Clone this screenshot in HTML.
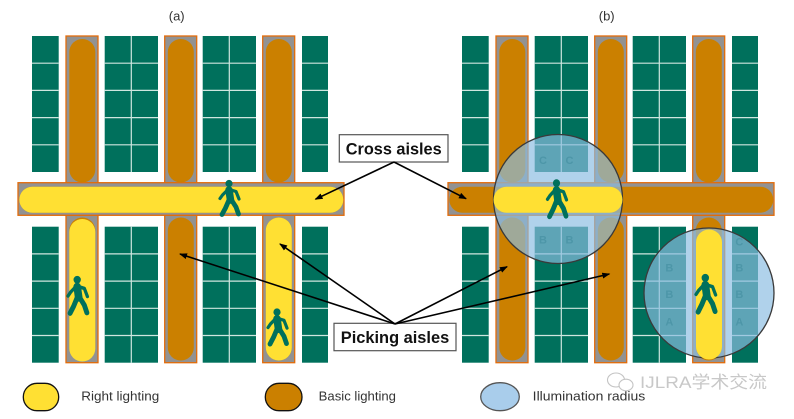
<!DOCTYPE html>
<html><head><meta charset="utf-8"><style>
html,body{margin:0;padding:0;background:#fff;}
svg{display:block;}
</style></head><body>
<svg width="794" height="419" viewBox="0 0 794 419" xmlns="http://www.w3.org/2000/svg">
<defs>
  <marker id="ah" markerWidth="8" markerHeight="6" refX="7" refY="3" orient="auto" markerUnits="userSpaceOnUse">
    <path d="M0,0 L8,3 L0,6 Z" fill="#000"/>
  </marker>
  <g id="walker" fill="none" stroke="#00705c" stroke-linecap="round" stroke-linejoin="round">
    <circle cx="10" cy="3.5" r="3.6" fill="#00705c" stroke="none"/>
    <path d="M10 10 L11.5 20" stroke-width="7.5"/>
    <path d="M8 10.5 L3.5 15 L1 18.5" stroke-width="3.2"/>
    <path d="M12 10 L17 11.5 L20 19" stroke-width="3.2"/>
    <path d="M10 20 L6.5 28 L3 34.5" stroke-width="4.8"/>
    <path d="M12.5 20 L17 27 L19.5 34" stroke-width="4.8"/>
  </g>
  <g id="base">
    <g fill="#00705c">
      <rect x="32" y="36" width="26.7" height="136"/>
      <rect x="104.7" y="36" width="53.3" height="136"/>
      <rect x="202.7" y="36" width="53.3" height="136"/>
      <rect x="302" y="36" width="26" height="136"/>
      <rect x="32" y="226.7" width="26.7" height="136"/>
      <rect x="104.7" y="226.7" width="53.3" height="136"/>
      <rect x="202.7" y="226.7" width="53.3" height="136"/>
      <rect x="302" y="226.7" width="26" height="136"/>
    </g>
    <g stroke="#cfe6df" stroke-width="1.2" fill="none">
      <path d="M32 63.2H58.7M32 90.4H58.7M32 117.6H58.7M32 144.8H58.7"/>
      <path d="M104.7 63.2H158M104.7 90.4H158M104.7 117.6H158M104.7 144.8H158M131.3 36V172"/>
      <path d="M202.7 63.2H256M202.7 90.4H256M202.7 117.6H256M202.7 144.8H256M229.3 36V172"/>
      <path d="M302 63.2H328M302 90.4H328M302 117.6H328M302 144.8H328"/>
      <path d="M32 253.9H58.7M32 281.1H58.7M32 308.3H58.7M32 335.5H58.7"/>
      <path d="M104.7 253.9H158M104.7 281.1H158M104.7 308.3H158M104.7 335.5H158M131.3 226.7V362.7"/>
      <path d="M202.7 253.9H256M202.7 281.1H256M202.7 308.3H256M202.7 335.5H256M229.3 226.7V362.7"/>
      <path d="M302 253.9H328M302 281.1H328M302 308.3H328M302 335.5H328"/>
    </g>
    <g fill="#929292" stroke="#e36c0a" stroke-width="1.3">
      <rect x="66" y="36" width="32" height="147"/>
      <rect x="164.7" y="36" width="32" height="147"/>
      <rect x="262.7" y="36" width="32" height="147"/>
      <rect x="66" y="215.3" width="32" height="147.4"/>
      <rect x="164.7" y="215.3" width="32" height="147.4"/>
      <rect x="262.7" y="215.3" width="32" height="147.4"/>
      <rect x="18" y="182.7" width="326" height="32.6"/>
    </g>
    <g fill="#cb8000">
      <rect x="69.3" y="39" width="26" height="143.5" rx="13"/>
      <rect x="167.8" y="39" width="26" height="143.5" rx="13"/>
      <rect x="265.8" y="39" width="26" height="143.5" rx="13"/>
      <rect x="69.3" y="217.5" width="26" height="143" rx="13"/>
      <rect x="167.8" y="217.5" width="26" height="143" rx="13"/>
      <rect x="265.8" y="217.5" width="26" height="143" rx="13"/>
      <rect x="19.3" y="186.7" width="324" height="26" rx="13"/>
    </g>
  </g>
</defs>

<!-- Panel (a) -->
<text x="176.7" y="20.5" font-family="Liberation Sans, sans-serif" font-size="13" fill="#333" text-anchor="middle">(a)</text>
<use href="#base"/>
<g fill="#ffe033">
  <rect x="19.3" y="186.7" width="324" height="26" rx="13"/>
  <rect x="69.3" y="219" width="26" height="142.5" rx="13"/>
  <rect x="265.8" y="217.5" width="26" height="143" rx="13"/>
</g>
<use href="#walker" transform="translate(219,180)"/>
<use href="#walker" transform="translate(67,276) scale(1.02,1.08)"/>
<use href="#walker" transform="translate(267,308.5) scale(1.0,1.03)"/>

<!-- Panel (b) -->
<text x="606.7" y="20.5" font-family="Liberation Sans, sans-serif" font-size="13" fill="#333" text-anchor="middle">(b)</text>
<use href="#base" transform="translate(430,0)"/>
<g stroke="#3a3a3a" stroke-width="1.3" fill="rgb(138,188,225)" fill-opacity="0.68">
  <circle cx="558" cy="199" r="64.5"/>
  <circle cx="709" cy="293" r="65"/>
</g>
<g font-family="Liberation Sans, sans-serif" font-weight="bold" font-size="11" fill="#2f7d8e" fill-opacity="0.35" text-anchor="middle">
  <text x="543" y="164">C</text><text x="569.5" y="164">C</text>
  <text x="543" y="243.5">B</text><text x="569.5" y="243.5">B</text>
  <text x="669.3" y="271.5">B</text><text x="669.3" y="298">B</text><text x="669.3" y="325.5">A</text>
  <text x="739.3" y="245.5">C</text><text x="739.3" y="271.5">B</text><text x="739.3" y="298">B</text><text x="739.3" y="325.5">A</text>
</g>
<g fill="#ffe033">
  <rect x="493.5" y="186.7" width="129" height="26" rx="13"/>
  <rect x="696" y="229.5" width="26" height="130" rx="13"/>
</g>
<use href="#walker" transform="translate(546.5,179.3) scale(1,1.08)"/>
<use href="#walker" transform="translate(695,274) scale(1.03,1.1)"/>

<!-- Labels -->
<rect x="339.3" y="134.7" width="108.7" height="27.3" fill="#fff" stroke="#555" stroke-width="1.2"/>
<text x="393.7" y="154.5" font-family="Liberation Sans, sans-serif" font-weight="bold" font-size="16.3" fill="#111" text-anchor="middle">Cross aisles</text>
<rect x="334" y="323.3" width="122" height="27.4" fill="#fff" stroke="#555" stroke-width="1.2"/>
<text x="395" y="343" font-family="Liberation Sans, sans-serif" font-weight="bold" font-size="16.4" fill="#111" text-anchor="middle">Picking aisles</text>

<g stroke="#000" stroke-width="1.6" fill="none" marker-end="url(#ah)">
  <line x1="394" y1="162" x2="315.5" y2="199.2"/>
  <line x1="394" y1="162" x2="466" y2="198.7"/>
  <line x1="395" y1="324" x2="180" y2="254"/>
  <line x1="395" y1="324" x2="280" y2="244"/>
  <line x1="395" y1="324" x2="507" y2="266.7"/>
  <line x1="395" y1="324" x2="609.3" y2="274"/>
</g>

<!-- Legend -->
<rect x="23.3" y="383.3" width="35.4" height="27.4" rx="13.7" fill="#ffe033" stroke="#111" stroke-width="1.3"/>
<text x="81.3" y="400.5" font-family="Liberation Sans, sans-serif" font-size="13" fill="#333" textLength="78" lengthAdjust="spacingAndGlyphs">Right lighting</text>
<rect x="265.3" y="383.3" width="36.7" height="27.4" rx="13.7" fill="#cb8000" stroke="#111" stroke-width="1.3"/>
<text x="318.7" y="400.5" font-family="Liberation Sans, sans-serif" font-size="13" fill="#333" textLength="77.3" lengthAdjust="spacingAndGlyphs">Basic lighting</text>
<ellipse cx="500" cy="396.7" rx="19.3" ry="14" fill="#a9cdeb" stroke="#555" stroke-width="1.3"/>
<text x="532.7" y="400.5" font-family="Liberation Sans, sans-serif" font-size="13" fill="#333" textLength="112.6" lengthAdjust="spacingAndGlyphs">Illumination radius</text>

<!-- Watermark -->
<g fill="none" stroke="#c4c4c4" stroke-width="1.1">
  <ellipse cx="616" cy="380" rx="8.5" ry="7"/>
  <ellipse cx="626" cy="385" rx="7" ry="5.8" fill="#fff"/>
</g>
<text x="640" y="388" font-family="Liberation Sans, 'Noto Sans CJK SC', sans-serif" font-size="17" fill="#c8c8c8" textLength="127" lengthAdjust="spacingAndGlyphs">IJLRA学术交流</text>
</svg>
</body></html>
